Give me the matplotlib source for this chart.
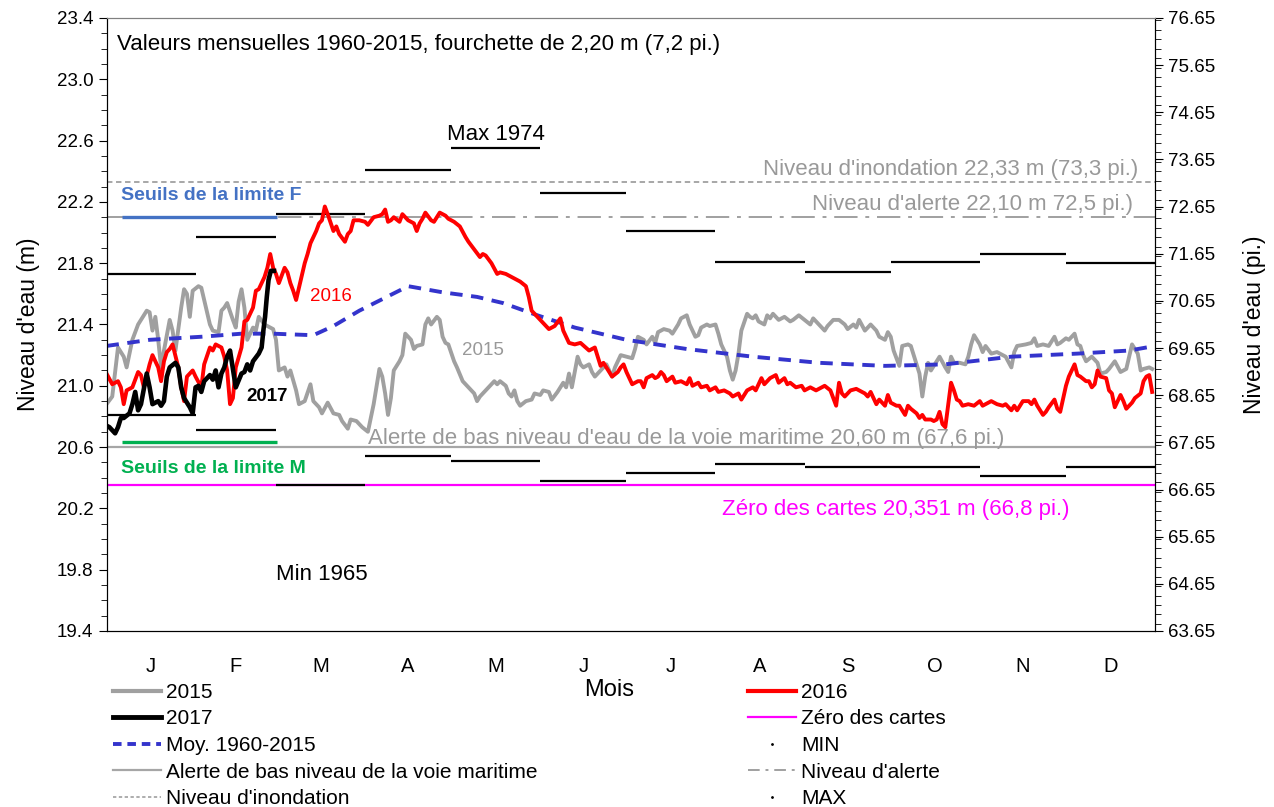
"""
Niveaux d'eau mensuels - courbes 2015, 2016, 2017 et moyenne 1960-2015
"""
import numpy as np
import matplotlib
matplotlib.use("Agg")
from matplotlib import pyplot as plt
from matplotlib.lines import Line2D
from matplotlib.ticker import MultipleLocator, FormatStrFormatter

plt.rcParams['font.family'] = ['Liberation Sans', 'DejaVu Sans']

# Mois (jour de l'annee au debut de chaque mois)
months = ["J", "F", "M", "A", "M", "J", "J", "A", "S", "O", "N", "D"]
month_start = [0, 31, 59, 90, 120, 151, 181, 212, 243, 273, 304, 334, 365]

# Valeurs mensuelles 1960-2015 (m)
max_month = [21.73, 21.97, 22.12, 22.41, 22.55, 22.26, 22.01, 21.81, 21.74, 21.81, 21.86, 21.80]
min_month = [20.81, 20.71, 20.35, 20.54, 20.51, 20.38, 20.43, 20.49, 20.47, 20.47, 20.41, 20.47]

# Niveaux de reference (m)
flood_level = 22.33
alert_level = 22.10
low_alert = 20.60
chart_datum = 20.351
limit_f = 22.10
limit_m = 20.63

# Moyenne 1960-2015 (jour, m)
moy_days = [0, 15, 33, 47, 58, 72, 79, 88, 105, 117, 129, 138, 150, 163, 181,
            202, 225, 248, 271, 292, 315, 338, 356, 365]
moy_vals = [21.26, 21.30, 21.32, 21.34, 21.34, 21.33, 21.39, 21.49, 21.65, 21.61,
            21.58, 21.54, 21.46, 21.38, 21.30, 21.24, 21.19, 21.15, 21.13, 21.14,
            21.19, 21.21, 21.23, 21.26]

# 2015 (jour, m)
y2015 = [(0,20.88),(2,20.93),(4,21.25),(6,21.19),(7,21.12),(9,21.30),(11,21.40),(12,21.43),
    (14,21.49),(15,21.48),(16,21.36),(17,21.45),(18,21.30),(19,21.12),(20,21.23),(22,21.43),
    (23,21.36),(24,21.23),(26,21.51),(27,21.63),(28,21.60),(29,21.45),(30,21.62),(32,21.65),
    (33,21.64),(34,21.56),(36,21.40),(37,21.36),(39,21.35),(40,21.49),(41,21.51),(42,21.54),
    (44,21.43),(45,21.38),(46,21.55),(47,21.63),(48,21.51),(49,21.30),(51,21.38),(52,21.36),
    (53,21.45),(55,21.40),(56,21.39),(58,21.37),(59,21.30),(60,21.10),(62,21.12),(63,21.06),
    (64,21.10),(66,20.97),(67,20.88),(69,20.90),(71,21.01),(72,20.90),(74,20.86),(75,20.82),
    (77,20.89),(79,20.82),(81,20.81),(82,20.77),(84,20.72),(85,20.78),(87,20.77),(89,20.73),
    (91,20.70),(93,20.88),(95,21.11),(96,21.06),(97,20.95),(98,20.81),(99,20.92),(100,21.10),
    (102,21.16),(103,21.20),(104,21.34),(106,21.30),(107,21.24),(108,21.26),(110,21.27),
    (111,21.40),(112,21.44),(113,21.40),(115,21.45),(116,21.43),(117,21.32),(118,21.28),
    (119,21.27),(121,21.16),(122,21.12),(124,21.03),(126,20.99),(128,20.95),(129,20.90),
    (130,20.93),(132,20.97),(133,20.99),(135,21.03),(136,21.01),(137,21.03),(139,21.00),
    (140,20.95),(141,20.93),(142,20.97),(143,20.90),(144,20.87),(146,20.90),(148,20.91),
    (149,20.95),(151,20.94),(152,20.97),(154,20.96),(155,20.91),(157,20.96),(159,21.02),
    (160,20.99),(161,21.08),(162,20.99),(164,21.19),(165,21.14),(166,21.12),(168,21.14),
    (169,21.09),(170,21.06),(172,21.10),(174,21.14),(176,21.06),(177,21.12),(179,21.20),
    (181,21.19),(183,21.18),(184,21.24),(185,21.32),(187,21.30),(188,21.27),(190,21.32),
    (191,21.28),(192,21.35),(194,21.37),(196,21.36),(197,21.34),(199,21.40),(200,21.44),
    (202,21.46),(203,21.40),(205,21.32),(206,21.33),(207,21.38),(209,21.40),(210,21.39),
    (212,21.40),(213,21.34),(214,21.27),(216,21.19),(217,21.10),(218,21.04),(219,21.10),
    (220,21.21),(221,21.36),(223,21.47),(224,21.45),(225,21.44),(226,21.46),(227,21.42),
    (229,21.40),(230,21.46),(231,21.44),(232,21.47),(234,21.43),(236,21.45),(238,21.42),
    (239,21.43),(241,21.46),(243,21.43),(245,21.40),(246,21.44),(248,21.40),(250,21.36),
    (251,21.39),(253,21.43),(255,21.43),(257,21.40),(258,21.37),(260,21.40),(261,21.38),
    (262,21.43),(264,21.36),(266,21.40),(268,21.36),(269,21.32),(271,21.30),(272,21.35),
    (273,21.32),(274,21.23),(276,21.13),(277,21.26),(279,21.27),(280,21.26),(282,21.14),
    (283,21.08),(284,20.93),(285,21.06),(286,21.15),(287,21.10),(289,21.16),(290,21.19),
    (292,21.12),(293,21.09),(294,21.19),(295,21.15),(297,21.15),(299,21.14),(300,21.19),
    (301,21.27),(302,21.33),(304,21.27),(305,21.22),(306,21.26),(308,21.21),(310,21.22),
    (312,21.20),(313,21.19),(315,21.12),(316,21.22),(317,21.26),(320,21.27),(322,21.28),
    (323,21.31),(324,21.26),(326,21.27),(328,21.26),(330,21.32),(331,21.27),(332,21.28),
    (334,21.31),(335,21.30),(337,21.34),(338,21.27),(339,21.26),(340,21.20),(341,21.16),
    (343,21.19),(345,21.15),(346,21.08),(348,21.09),(349,21.11),(351,21.16),(353,21.09),
    (355,21.11),(356,21.19),(357,21.27),(359,21.21),(360,21.10),(361,21.11),(363,21.12),
    (364,21.11)]

# 2016 (jour, m)
y2016 = [(0,21.08),(2,21.01),(4,21.03),(5,20.99),(6,20.88),(7,20.97),(9,20.99),(11,21.09),
    (12,21.07),(13,20.99),(15,21.14),(16,21.20),(18,21.12),(19,21.03),(20,21.16),(21,21.22),
    (22,21.24),(23,21.27),(25,21.12),(26,20.99),(27,20.90),(28,21.06),(30,21.10),(31,21.06),
    (33,20.99),(34,21.14),(36,21.25),(37,21.23),(38,21.27),(40,21.25),(41,21.19),(42,21.10),
    (43,20.88),(44,20.92),(45,21.12),(47,21.25),(48,21.42),(49,21.43),(51,21.51),(52,21.62),
    (53,21.63),(55,21.71),(56,21.77),(57,21.86),(58,21.77),(59,21.73),(60,21.67),(62,21.77),
    (63,21.74),(64,21.67),(65,21.62),(66,21.56),(67,21.64),(69,21.80),(70,21.86),(71,21.93),
    (73,22.01),(74,22.06),(75,22.08),(76,22.17),(77,22.12),(79,22.01),(80,22.04),(81,21.99),
    (83,21.94),(84,21.99),(85,22.01),(86,22.08),(88,22.08),(90,22.07),(91,22.05),(93,22.10),
    (95,22.11),(96,22.12),(97,22.15),(98,22.07),(99,22.08),(100,22.10),(102,22.07),
    (103,22.12),(105,22.08),(107,22.06),(108,22.01),(109,22.06),(110,22.09),(111,22.13),
    (113,22.08),(114,22.07),(116,22.13),(118,22.11),(119,22.09),(121,22.07),(123,22.04),
    (125,21.97),(126,21.94),(128,21.89),(130,21.84),(131,21.86),(132,21.85),(134,21.80),
    (136,21.73),(137,21.74),(139,21.73),(141,21.71),(144,21.68),(146,21.65),(147,21.58),
    (148,21.49),(150,21.45),(151,21.43),(154,21.37),(156,21.39),(158,21.44),(159,21.36),
    (161,21.28),(163,21.27),(165,21.28),(168,21.23),(170,21.25),(171,21.19),(172,21.13),
    (173,21.15),(174,21.12),(176,21.06),(178,21.09),(179,21.12),(180,21.14),(181,21.09),
    (183,21.01),(185,21.03),(186,21.03),(187,20.99),(188,21.05),(190,21.07),(191,21.05),
    (192,21.06),(193,21.09),(194,21.07),(195,21.03),(197,21.06),(198,21.02),(200,21.03),
    (202,21.01),(203,21.05),(204,21.00),(206,21.02),(207,20.99),(209,21.00),(210,20.97),
    (212,20.99),(213,20.96),(215,20.97),(217,20.95),(218,20.93),(220,20.95),(221,20.91),
    (223,20.97),(225,20.99),(226,20.97),(227,21.01),(228,21.05),(229,21.01),(231,21.05),
    (233,21.07),(234,21.02),(236,21.05),(237,21.01),(238,21.02),(240,20.99),(242,21.00),
    (243,20.97),(245,20.99),(247,20.97),(249,20.99),(250,21.00),(252,20.97),(254,20.87),
    (255,21.02),(256,20.95),(257,20.93),(259,20.97),(261,20.98),(262,20.97),(264,20.95),
    (265,20.93),(266,20.96),(268,20.88),(269,20.91),(271,20.87),(272,20.94),(273,20.89),
    (275,20.87),(276,20.87),(277,20.84),(278,20.81),(279,20.87),(280,20.85),(282,20.82),
    (283,20.79),(284,20.81),(285,20.78),(287,20.78),(288,20.77),(289,20.78),(290,20.83),
    (291,20.75),(292,20.73),(294,21.02),(295,20.97),(296,20.91),(297,20.90),(298,20.87),
    (300,20.88),(302,20.87),(304,20.90),(305,20.87),(306,20.88),(308,20.90),(310,20.88),
    (312,20.87),(313,20.88),(315,20.84),(316,20.87),(317,20.84),(319,20.90),(321,20.90),
    (322,20.88),(323,20.91),(324,20.87),(326,20.81),(327,20.83),(328,20.86),(330,20.91),
    (331,20.85),(332,20.83),(334,21.00),(335,21.06),(336,21.10),(337,21.14),(338,21.07),
    (339,21.06),(341,21.03),(342,21.03),(343,20.99),(344,21.01),(345,21.10),(346,21.06),
    (348,21.05),(349,20.97),(350,20.95),(351,20.86),(353,20.94),(354,20.90),(355,20.85),
    (357,20.89),(358,20.92),(360,20.95),(361,21.03),(362,21.06),(363,21.07),(364,20.96)]

# 2017 (jour, m)
y2017 = [(0,20.74),(1,20.73),(3,20.69),(4,20.73),(5,20.79),(6,20.79),(8,20.82),(9,20.88),
    (10,20.96),(11,20.84),(12,20.88),(14,21.08),(15,20.99),(16,20.88),(18,20.90),(19,20.87),
    (20,20.90),(21,21.06),(22,21.12),(24,21.15),(25,21.12),(26,20.99),(27,20.92),(29,20.86),
    (30,20.82),(31,20.99),(32,21.00),(33,20.96),(34,21.03),(36,21.07),(37,21.04),(38,21.10),
    (39,20.99),(40,21.08),(41,21.12),(42,21.19),(43,21.23),(44,21.11),(45,20.99),(47,21.08),
    (48,21.09),(49,21.14),(50,21.10),(51,21.16),(53,21.21),(54,21.25),(54.6,21.36),
    (55.2,21.45),(55.8,21.58),(56.4,21.69),(57.2,21.75),(58.3,21.75)]

GRAY = "#A0A0A0"
TXT_GRAY = "#999999"
BLUE = "#3434CC"

fig = plt.figure(figsize=(12.74, 8.07), dpi=100)
ax = fig.add_axes([0.0836, 0.2181, 0.8230, 0.7596])

# series
d, v = zip(*y2015)
ax.plot(d, v, color=GRAY, lw=2.8, zorder=3)
ax.plot(moy_days, moy_vals, color=BLUE, lw=2.8, dashes=(3.2, 2.2), zorder=4)
d, v = zip(*y2016)
ax.plot(d, v, color="#FF0000", lw=2.8, zorder=5)
d, v = zip(*y2017)
ax.plot(d, v, color="black", lw=3.3, zorder=6)

# reference lines
ax.axhline(flood_level, color=GRAY, lw=1.3, dashes=(3, 2), zorder=2)
ax.axhline(alert_level, color=GRAY, lw=1.4, dashes=(12, 4, 2, 4), zorder=2)
ax.axhline(low_alert, color="#A6A6A6", lw=1.6, zorder=2)
ax.axhline(chart_datum, color="#FF00FF", lw=1.6, zorder=2)

# monthly min / max
for i in range(12):
    ax.hlines(max_month[i], month_start[i], month_start[i + 1], color="black",
              lw=1.6, zorder=3)
    ax.hlines(min_month[i], month_start[i], month_start[i + 1], color="black",
              lw=1.6, zorder=3)

# seuils F / M
ax.hlines(limit_f, 5.4, 59.3, color="#4472C4", lw=2.4, zorder=4)
ax.hlines(limit_m, 5.4, 59.3, color="#00B050", lw=2.4, zorder=4)
ax.text(4.9, 22.24, "Seuils de la limite F", color="#4472C4", fontsize=14,
        fontweight="bold", va="center")
ax.text(4.9, 20.46, "Seuils de la limite M", color="#00B050", fontsize=14,
        fontweight="bold", va="center")

# annotations
ax.text(3.8, 23.23, "Valeurs mensuelles 1960-2015, fourchette de 2,20 m (7,2 pi.)",
        fontsize=16, va="center")
ax.text(118.4, 22.64, "Max 1974", fontsize=16, va="center")
ax.text(59, 19.77, "Min 1965", fontsize=16, va="center")
ax.text(70.8, 21.58, "2016", color="#FF0000", fontsize=13.5, va="center")
ax.text(123.6, 21.23, "2015", color=TXT_GRAY, fontsize=13.5, va="center")
ax.text(48.6, 20.93, "2017", color="black", fontsize=13.5, fontweight="bold", va="center")
ax.text(359, 22.41, "Niveau d'inondation 22,33 m (73,3 pi.)", color=TXT_GRAY,
        fontsize=16, va="center", ha="right")
ax.text(357.4, 22.185, "Niveau d'alerte 22,10 m 72,5 pi.)", color=TXT_GRAY,
        fontsize=16, va="center", ha="right")
ax.text(91, 20.655, "Alerte de bas niveau d'eau de la voie maritime 20,60 m (67,6 pi.)",
        color=TXT_GRAY, fontsize=16, va="center")
ax.text(214.3, 20.19, "Zéro des cartes 20,351 m (66,8 pi.)", color="#FF00FF",
        fontsize=16, va="center")

# axes
ax.set_xlim(0, 365)
ax.set_ylim(19.4, 23.4)
ax.set_yticks(np.arange(19.4, 23.41, 0.4))
ax.yaxis.set_major_formatter(FormatStrFormatter("%.1f"))
ax.yaxis.set_minor_locator(MultipleLocator(0.1))
centers = [(month_start[i] + month_start[i + 1]) / 2 for i in range(12)]
ax.set_xticks(centers)
ax.set_xticklabels(months)
ax.tick_params(axis="x", length=0, pad=19, labelsize=14.5)
ax.tick_params(axis="y", which="major", length=6, labelsize=13.5, direction="out")
ax.tick_params(axis="y", which="minor", length=4, direction="out")
ax.set_ylabel("Niveau d'eau (m)", fontsize=16.5, labelpad=12)
ax.spines["top"].set_color("#808080")

ax2 = ax.twinx()
ax2.set_ylim(63.65, 76.65)
ax2.set_yticks(np.arange(63.65, 76.66, 1.0))
ax2.yaxis.set_major_formatter(FormatStrFormatter("%.2f"))
ax2.yaxis.set_minor_locator(MultipleLocator(0.2))
ax2.tick_params(axis="y", which="major", length=6, labelsize=13.5, direction="out")
ax2.tick_params(axis="y", which="minor", length=4, direction="out")
ax2.set_ylabel("Niveau d'eau (pi.)", fontsize=16.5, labelpad=20)
ax2.spines["top"].set_color("#808080")

fig.text(609 / 1274, 1 - 690 / 807, "Mois", fontsize=17, ha="center", va="center")

# legend
handles = [
    Line2D([], [], color=GRAY, lw=3),
    Line2D([], [], color="black", lw=3.5),
    Line2D([], [], color=BLUE, lw=2.8, dashes=(2.2, 1.5)),
    Line2D([], [], color="#A6A6A6", lw=1.6),
    Line2D([], [], color=GRAY, lw=1.2, dashes=(2, 1.5)),
    Line2D([], [], color="#FF0000", lw=3),
    Line2D([], [], color="#FF00FF", lw=1.6),
    Line2D([], [], color="black", marker=".", markersize=2, ls="none"),
    Line2D([], [], color=GRAY, lw=1.4, dashes=(6, 3, 1.5, 3)),
    Line2D([], [], color="black", marker=".", markersize=2, ls="none"),
]
labels = ["2015", "2017", "Moy. 1960-2015", "Alerte de bas niveau de la voie maritime",
          "Niveau d'inondation", "2016", "Zéro des cartes", "MIN", "Niveau d'alerte", "MAX"]
fig.legend(handles, labels, ncol=2, loc="upper left",
           bbox_to_anchor=(113 / 1274, 1 - 683 / 807), frameon=False, fontsize=15,
           handlelength=2.3, handletextpad=0.25, columnspacing=10.1, labelspacing=0.36,
           borderpad=0, borderaxespad=0)

fig.savefig("out.png", dpi=100)
